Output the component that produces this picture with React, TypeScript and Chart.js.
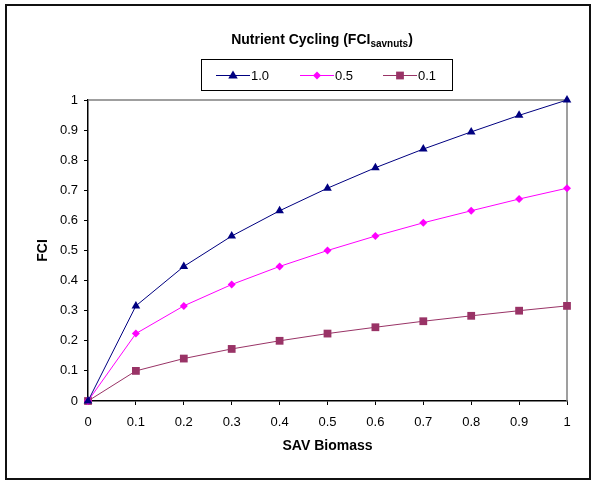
import React, { useEffect, useRef } from "react";
import { Chart, registerables } from "chart.js";

Chart.register(...registerables);

const biomass = [0, 0.1, 0.2, 0.3, 0.4, 0.5, 0.6, 0.7, 0.8, 0.9, 1.0];
const series10 = [0, 0.316, 0.447, 0.548, 0.632, 0.707, 0.775, 0.837, 0.894, 0.949, 1.0];
const series05 = [0, 0.224, 0.316, 0.387, 0.447, 0.5, 0.548, 0.592, 0.632, 0.671, 0.707];
const series01 = [0, 0.1, 0.141, 0.173, 0.2, 0.224, 0.245, 0.265, 0.283, 0.3, 0.316];
const seriesLabels = ["1.0", "0.5", "0.1"];
const titleMain = "Nutrient Cycling (FCI";
const titleSub = "savnuts";
const titleEnd = ")";
const xTitle = "SAV Biomass";
const yTitle = "FCI";

const NAVY = "#000080";
const MAGENTA = "#FF00FF";
const PLUM = "#993366";
const FONT = "'Liberation Sans', Arial, sans-serif";

function drawMarker(ctx: CanvasRenderingContext2D, style: string, x: number, y: number, r: number, color: string) {
  ctx.save();
  ctx.fillStyle = color;
  ctx.beginPath();
  if (style === "triangle") {
    ctx.moveTo(x, y - r);
    ctx.lineTo(x + r * 0.95, y + r * 0.6);
    ctx.lineTo(x - r * 0.95, y + r * 0.6);
  } else if (style === "rectRot") {
    ctx.moveTo(x, y - r);
    ctx.lineTo(x + r, y);
    ctx.lineTo(x, y + r);
    ctx.lineTo(x - r, y);
  } else {
    const s = r * Math.SQRT1_2;
    ctx.rect(x - s, y - s, 2 * s, 2 * s);
  }
  ctx.closePath();
  ctx.fill();
  ctx.restore();
}

const decorPlugin = {
  id: "decor",
  beforeDraw(chart: any) {
    const ctx = chart.ctx as CanvasRenderingContext2D;
    ctx.save();
    ctx.fillStyle = "#ffffff";
    ctx.fillRect(0, 0, chart.width, chart.height);
    ctx.strokeStyle = "#111";
    ctx.lineWidth = 2;
    ctx.strokeRect(6, 5, 584, 474);
    ctx.restore();
  },
  beforeDatasetsDraw(chart: any) {
    const ctx = chart.ctx as CanvasRenderingContext2D;
    const a = chart.chartArea;
    ctx.save();
    ctx.strokeStyle = "#808080";
    ctx.lineWidth = 1.5;
    ctx.beginPath();
    ctx.moveTo(a.left, a.top);
    ctx.lineTo(a.right, a.top);
    ctx.lineTo(a.right, a.bottom);
    ctx.stroke();
    ctx.restore();
  },
  afterDraw(chart: any) {
    const ctx = chart.ctx as CanvasRenderingContext2D;
    const a = chart.chartArea;
    ctx.save();
    ctx.fillStyle = "#000";
    // Title
    ctx.textBaseline = "alphabetic";
    ctx.font = `bold 14px ${FONT}`;
    const w1 = ctx.measureText(titleMain).width;
    const w3 = ctx.measureText(titleEnd).width;
    ctx.font = `bold 10px ${FONT}`;
    const w2 = ctx.measureText(titleSub).width;
    const total = w1 + w2 + w3;
    let tx = 322 - total / 2;
    const ty = 44;
    ctx.textAlign = "left";
    ctx.font = `bold 14px ${FONT}`;
    ctx.fillText(titleMain, tx, ty);
    tx += w1;
    ctx.font = `bold 10px ${FONT}`;
    ctx.fillText(titleSub, tx, ty + 3);
    tx += w2;
    ctx.font = `bold 14px ${FONT}`;
    ctx.fillText(titleEnd, tx, ty);

    // Legend
    ctx.strokeStyle = "#000";
    ctx.lineWidth = 1;
    ctx.strokeRect(201.5, 59.5, 251, 31);
    const items = [
      { label: seriesLabels[0], color: NAVY, style: "triangle", r: 5, x0: 216 },
      { label: seriesLabels[1], color: MAGENTA, style: "rectRot", r: 4, x0: 300 },
      { label: seriesLabels[2], color: PLUM, style: "rect", r: 5.5, x0: 383 },
    ];
    const ly = 75.5;
    ctx.font = `13px ${FONT}`;
    ctx.textBaseline = "middle";
    for (const it of items) {
      ctx.strokeStyle = it.color;
      ctx.lineWidth = 1;
      ctx.beginPath();
      ctx.moveTo(it.x0, ly);
      ctx.lineTo(it.x0 + 34, ly);
      ctx.stroke();
      drawMarker(ctx, it.style, it.x0 + 17, ly, it.r, it.color);
      ctx.fillStyle = "#000";
      ctx.fillText(it.label, it.x0 + 35, ly + 0.5);
    }

    // Axis titles
    ctx.font = `bold 14px ${FONT}`;
    ctx.textAlign = "center";
    ctx.textBaseline = "middle";
    ctx.fillText(xTitle, (a.left + a.right) / 2, 446);
    ctx.translate(43, (a.top + a.bottom) / 2);
    ctx.rotate(-Math.PI / 2);
    ctx.fillText(yTitle, 0, 0);
    ctx.restore();
  },
};

function fmt(v: number) {
  return String(Number(Number(v).toFixed(1)));
}

export default function App() {
  const canvasRef = useRef<HTMLCanvasElement | null>(null);

  useEffect(() => {
    const canvas = canvasRef.current;
    if (!canvas) return;
    const mk = (vals: number[]) => biomass.map((x, i) => ({ x, y: vals[i] }));
    const chart = new Chart(canvas, {
      type: "line",
      data: {
        datasets: [
          {
            label: seriesLabels[0],
            data: mk(series10),
            borderColor: NAVY,
            backgroundColor: NAVY,
            borderWidth: 1,
            pointStyle: "triangle",
            pointRadius: 5,
            pointBorderWidth: 0,
          },
          {
            label: seriesLabels[1],
            data: mk(series05),
            borderColor: MAGENTA,
            backgroundColor: MAGENTA,
            borderWidth: 1,
            pointStyle: "rectRot",
            pointRadius: 4,
            pointBorderWidth: 0,
          },
          {
            label: seriesLabels[2],
            data: mk(series01),
            borderColor: PLUM,
            backgroundColor: PLUM,
            borderWidth: 1,
            pointStyle: "rect",
            pointRadius: 5.5,
            pointBorderWidth: 0,
          },
        ],
      },
      options: {
        responsive: false,
        animation: false,
        clip: false as any,
        layout: { padding: { top: 100, right: 25, left: 0, bottom: 0 } },
        plugins: {
          legend: { display: false },
          title: { display: false },
          tooltip: { enabled: false },
        },
        scales: {
          x: {
            type: "linear",
            min: 0,
            max: 1,
            afterFit: (s: any) => {
              s.height = 80;
            },
            ticks: {
              stepSize: 0.1,
              color: "#000",
              font: { family: FONT, size: 13 },
              padding: 10,
              maxRotation: 0,
              callback: (v: any) => fmt(v),
            },
            grid: {
              drawOnChartArea: false,
              drawTicks: true,
              tickLength: 4,
              tickColor: "#000",
              color: "#000",
            },
            border: { display: true, color: "#000", width: 1.5 },
          },
          y: {
            type: "linear",
            min: 0,
            max: 1,
            afterFit: (s: any) => {
              s.width = 88;
            },
            ticks: {
              stepSize: 0.1,
              color: "#000",
              font: { family: FONT, size: 13 },
              padding: 6,
              callback: (v: any) => fmt(v),
            },
            grid: {
              drawOnChartArea: false,
              drawTicks: true,
              tickLength: 4,
              tickColor: "#000",
              color: "#000",
            },
            border: { display: true, color: "#000", width: 1.5 },
          },
        },
      },
      plugins: [decorPlugin],
    });
    return () => chart.destroy();
  }, []);

  return (
    <div style={{ position: "fixed", left: 0, top: 0, width: 592, height: 481, background: "#fff" }}>
      <canvas ref={canvasRef} width={592} height={481} style={{ display: "block" }} />
    </div>
  );
}
